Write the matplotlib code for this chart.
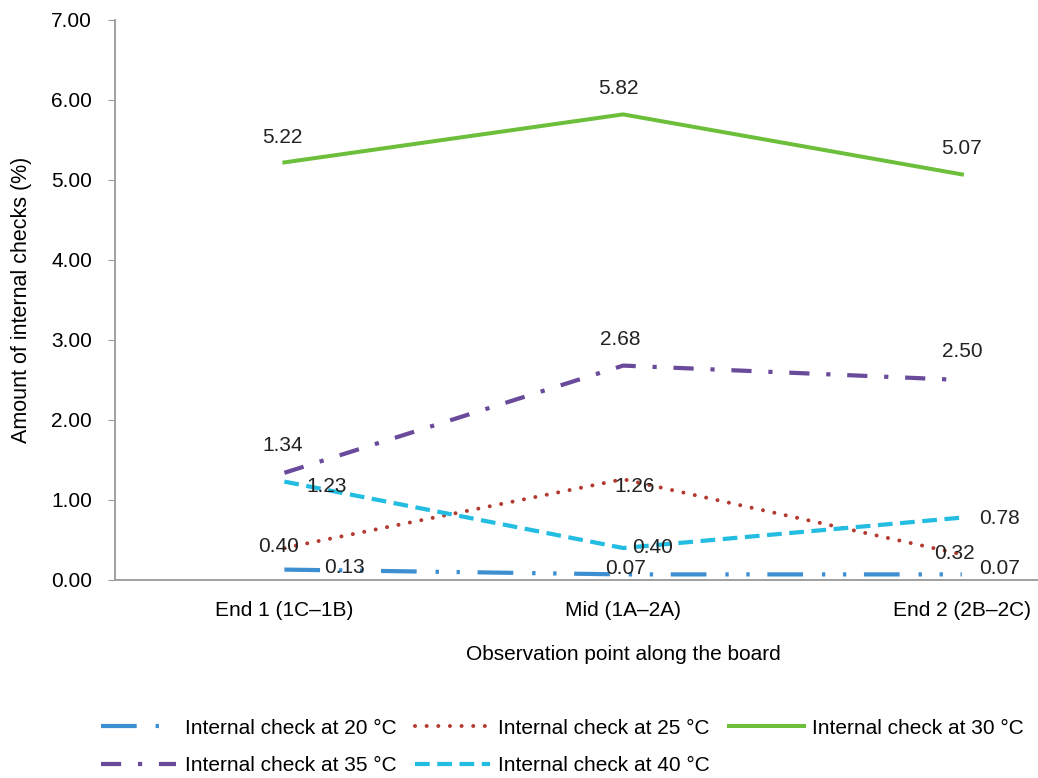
import numpy as np
import matplotlib
matplotlib.use('Agg')
import matplotlib.pyplot as plt

# Data
categories = ['End 1 (1C–1B)', 'Mid (1A–2A)', 'End 2 (2B–2C)']
check_20 = [0.13, 0.07, 0.07]
check_25 = [0.40, 1.26, 0.32]
check_30 = [5.22, 5.82, 5.07]
check_35 = [1.34, 2.68, 2.50]
check_40 = [1.23, 0.40, 0.78]
y_ticks = [0, 1, 2, 3, 4, 5, 6, 7]

plt.rcParams['font.family'] = ['Liberation Sans', 'DejaVu Sans']
FS = 15

fig = plt.figure(figsize=(10.38, 7.78), dpi=100)
ax = fig.add_axes([0.1108, 0.2545, 0.979, 0.7198])
x = np.arange(len(categories))

# name, values, colour, linestyle, width (px), cap style, label offsets (px)
series = [
    ('Internal check at 20 °C', check_20, '#3d8fd1', (0, (8.5, 4.5, 0.8, 4.2, 0.8, 4.2)), 4.2, 'butt',
     [(60, 2), (2, 6), (38, 6)]),
    ('Internal check at 25 °C', check_25, '#b23a2e', (0, (0.01, 2.9)), 4.0, 'round',
     [(-6, 1), (12, -7), (-7, 1)]),
    ('Internal check at 30 °C', check_30, '#6cbf3b', '-', 4.0, 'butt',
     [(-2, 25), (-5, 26), (0, 26)]),
    ('Internal check at 35 °C', check_35, '#6a4b9b', (0, (4.8, 4, 1, 4)), 4.2, 'butt',
     [(-2, 27), (-3, 26), (0, 28)]),
    ('Internal check at 40 °C', check_40, '#22bde0', (0, (3.5, 1.8)), 4.2, 'butt',
     [(42, -5), (29, 0), (38, -1)]),
]

handles = {}
for name, vals, col, ls, lw, cap, offs in series:
    ln, = ax.plot(x, vals, color=col, linestyle=ls, linewidth=lw * 0.72,
                  dash_capstyle=cap, label=name)
    handles[name] = ln
    for xi, v, (dx, dy) in zip(x, vals, offs):
        ax.annotate(f'{v:.2f}', (xi, v), xytext=(dx, dy), textcoords='offset pixels',
                    ha='center', va='center', fontsize=FS, color='#222222')

ax.set_xlim(-0.5, 2.5)
ax.set_ylim(0, 7)
ax.set_yticks(y_ticks)
ax.set_yticklabels([f'{t:.2f}' for t in y_ticks], fontsize=FS)
ax.set_xticks(x)
ax.set_xticklabels(categories, fontsize=FS)
ax.tick_params(axis='x', length=0, pad=15)
ax.tick_params(axis='y', length=5, color='#999999', direction='out', pad=11.5)
for s in ['top', 'right']:
    ax.spines[s].set_visible(False)
for s in ['left', 'bottom']:
    ax.spines[s].set_color('#999999')
    ax.spines[s].set_linewidth(1.3)
ax.set_xlabel('Observation point along the board', fontsize=FS, labelpad=18)
ax.set_ylabel('Amount of internal checks (%)', fontsize=15.5, labelpad=14)

order = ['Internal check at 20 °C', 'Internal check at 35 °C',
         'Internal check at 25 °C', 'Internal check at 40 °C',
         'Internal check at 30 °C']
fig.legend([handles[k] for k in order], order, ncol=3, frameon=False,
           loc='center', bbox_to_anchor=(0.542, 0.040), fontsize=FS,
           handlelength=3.6, columnspacing=0.9, handletextpad=0.4, labelspacing=0.9)

plt.savefig('out.png', dpi=100)
